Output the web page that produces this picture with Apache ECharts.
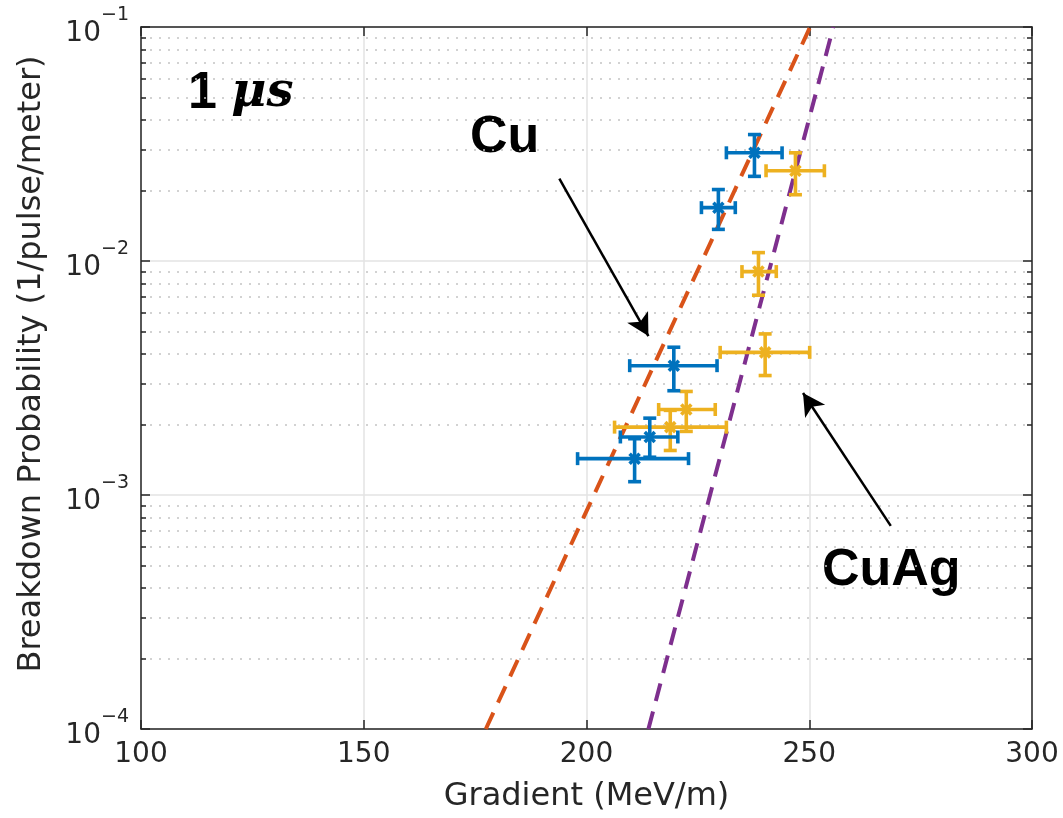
<!DOCTYPE html>
<html>
<head>
<meta charset="utf-8">
<script src="https://cdn.jsdelivr.net/npm/echarts@6/dist/echarts.min.js"></script>
<style>
  html, body { margin: 0; background: #fff; }
  #chart { width: 1063px; height: 818px; }
</style>
</head>
<body>
<div id="chart"></div>
<script>
// Cu 测量点（梯度 MeV/m，击穿概率）及误差范围
const cuX = [237.7, 229.6, 219.6, 214.2, 210.8]
const cuXLow = [231.4, 225.8, 209.7, 207.6, 198.0]
const cuXHigh = [243.9, 233.4, 229.3, 220.5, 222.9]
const cuY = [0.0290, 0.0169, 0.00357, 0.00177, 0.00143]
const cuYLow = [0.0230, 0.01365, 0.00279, 0.00145, 0.00114]
const cuYHigh = [0.0347, 0.0202, 0.00428, 0.00213, 0.00174]

// CuAg 测量点
const cuAgX = [246.9, 238.6, 240.1, 222.4, 218.8]
const cuAgXLow = [240.3, 234.9, 230.0, 216.2, 206.3]
const cuAgXHigh = [253.4, 242.6, 250.1, 228.9, 231.4]
const cuAgY = [0.0243, 0.00901, 0.00407, 0.00232, 0.00195]
const cuAgYLow = [0.0192, 0.00714, 0.00324, 0.00187, 0.00155]
const cuAgYHigh = [0.0290, 0.01086, 0.00488, 0.00277, 0.00230]

// 拟合曲线（对数坐标下为直线）
const cuFitX = [177.4, 250.2]
const cuAgFitX = [213.9, 255.4]
const fitY = [1e-4, 1e-1]

// 坐标轴刻度
const xTicks = [100, 150, 200, 250, 300]
const yMin = 1e-4
const yMax = 1e-1

// 箭头（起点 -> 终点）
const cuArrow = [[193.9, 0.02251], [213.9, 0.004776]]
const cuAgArrow = [[268.3, 7.38e-4], [248.6, 0.00273]]

const BLUE = '#0072BD'
const YELLOW = '#EDB120'
const ORANGE = '#D95319'
const PURPLE = '#7E2F8E'
const AXIS = '#262626'
const FONT = '"DejaVu Sans", sans-serif'

function toRows(x, xl, xh, y, yl, yh) {
  return x.map((v, i) => [v, y[i], xl[i], xh[i], yl[i], yh[i]])
}

function errorBar(color) {
  return function (params, api) {
    const c = api.coord([api.value(0), api.value(1)])
    const l = api.coord([api.value(2), api.value(1)])
    const r = api.coord([api.value(3), api.value(1)])
    const b = api.coord([api.value(0), api.value(4)])
    const t = api.coord([api.value(0), api.value(5)])
    const cap = 6.5
    const m = 5
    const style = { stroke: color, lineWidth: 3.6 }
    const seg = (x1, y1, x2, y2) => ({ type: 'line', shape: { x1, y1, x2, y2 }, style })
    return {
      type: 'group',
      children: [
        seg(l[0], c[1], r[0], c[1]),
        seg(c[0], b[1], c[0], t[1]),
        seg(l[0], c[1] - cap, l[0], c[1] + cap),
        seg(r[0], c[1] - cap, r[0], c[1] + cap),
        seg(c[0] - cap, b[1], c[0] + cap, b[1]),
        seg(c[0] - cap, t[1], c[0] + cap, t[1]),
        seg(c[0] - m, c[1] - m, c[0] + m, c[1] + m),
        seg(c[0] - m, c[1] + m, c[0] + m, c[1] - m)
      ]
    }
  }
}

function yLabel(v) {
  const e = Math.round(Math.log10(v))
  return '{b|10}{s|' + String(e).replace('-', '\u2212') + '}'
}

const chart = echarts.init(document.getElementById('chart'))

const xBase = {
  type: 'value',
  min: xTicks[0],
  max: xTicks[xTicks.length - 1],
  interval: 50,
  axisLine: { show: true, onZero: false, lineStyle: { color: AXIS, width: 1.5 } },
  axisTick: { show: true, inside: true, length: 9, lineStyle: { color: AXIS, width: 1.5 } }
}

const yBase = {
  type: 'log',
  logBase: 10,
  min: yMin,
  max: yMax,
  axisLine: { show: true, onZero: false, lineStyle: { color: AXIS, width: 1.5 } },
  axisTick: { show: true, inside: true, length: 9, lineStyle: { color: AXIS, width: 1.5 } },
  minorTick: { show: true, splitNumber: 9, length: 5, lineStyle: { color: AXIS, width: 1.5 } }
}

chart.setOption({
  animation: false,
  backgroundColor: '#fff',
  grid: { left: 141, right: 31, top: 27, bottom: 87 },
  xAxis: [
    Object.assign({}, xBase, {
      position: 'bottom',
      name: 'Gradient (MeV/m)',
      nameLocation: 'middle',
      nameGap: 52,
      nameTextStyle: { fontFamily: FONT, fontSize: 32, color: AXIS },
      axisLabel: { fontFamily: FONT, fontSize: 28, color: AXIS, margin: 12 },
      splitLine: { show: true, lineStyle: { color: '#e3e3e3', width: 1.5 } }
    }),
    Object.assign({}, xBase, {
      position: 'top',
      axisLabel: { show: false },
      splitLine: { show: false }
    })
  ],
  yAxis: [
    Object.assign({}, yBase, {
      position: 'left',
      name: 'Breakdown Probability (1/pulse/meter)',
      nameLocation: 'middle',
      nameGap: 93,
      nameTextStyle: { fontFamily: FONT, fontSize: 32, color: AXIS, padding: [0, 0, 0, 28] },
      axisLabel: {
        margin: 12,
        formatter: yLabel,
        rich: {
          b: { fontFamily: FONT, fontSize: 28, color: AXIS, padding: [14, 0, 0, 0] },
          s: { fontFamily: FONT, fontSize: 19, color: AXIS, verticalAlign: 'top' }
        }
      },
      splitLine: { show: true, lineStyle: { color: '#e3e3e3', width: 1.5 } },
      minorSplitLine: { show: true, lineStyle: { color: '#c4c4c4', width: 1.5, type: [2, 7] } }
    }),
    Object.assign({}, yBase, {
      position: 'right',
      axisLabel: { show: false },
      splitLine: { show: false }
    })
  ],
  series: [
    {
      name: 'Cu fit',
      type: 'line',
      data: cuFitX.map((x, i) => [x, fitY[i]]),
      showSymbol: false,
      lineStyle: { color: ORANGE, width: 4, type: [18, 11] },
      markLine: {
        silent: true,
        symbol: ['none', 'arrow'],
        symbolSize: [18, 22],
        label: { show: false },
        lineStyle: { color: '#000', width: 2.5, type: 'solid' },
        data: [
          [{ coord: cuArrow[0] }, { coord: cuArrow[1] }],
          [{ coord: cuAgArrow[0] }, { coord: cuAgArrow[1] }]
        ]
      }
    },
    {
      name: 'CuAg fit',
      type: 'line',
      data: cuAgFitX.map((x, i) => [x, fitY[i]]),
      showSymbol: false,
      lineStyle: { color: PURPLE, width: 4, type: [18, 11] }
    },
    {
      name: 'Cu',
      type: 'custom',
      renderItem: errorBar(BLUE),
      encode: { x: [0, 2, 3], y: [1, 4, 5] },
      data: toRows(cuX, cuXLow, cuXHigh, cuY, cuYLow, cuYHigh),
      z: 5
    },
    {
      name: 'CuAg',
      type: 'custom',
      renderItem: errorBar(YELLOW),
      encode: { x: [0, 2, 3], y: [1, 4, 5] },
      data: toRows(cuAgX, cuAgXLow, cuAgXHigh, cuAgY, cuAgYLow, cuAgYHigh),
      z: 4
    }
  ],
  graphic: [
    {
      type: 'text',
      left: 188,
      top: 68,
      style: {
        text: '{a|1 }{m|\u03bcs}',
        rich: {
          a: { fontFamily: 'Liberation Sans', fontWeight: 'bold', fontSize: 52, fill: '#000' },
          m: { fontFamily: 'DejaVu Serif', fontStyle: 'italic', fontWeight: 'bold', fontSize: 48, fill: '#000' }
        }
      }
    },
    {
      type: 'text',
      left: 470,
      top: 112,
      style: { text: 'Cu', fontFamily: 'Liberation Sans', fontWeight: 'bold', fontSize: 52, fill: '#000' }
    },
    {
      type: 'text',
      left: 822,
      top: 545,
      style: { text: 'CuAg', fontFamily: 'Liberation Sans', fontWeight: 'bold', fontSize: 52, fill: '#000' }
    }
  ]
})
</script>
</body>
</html>
